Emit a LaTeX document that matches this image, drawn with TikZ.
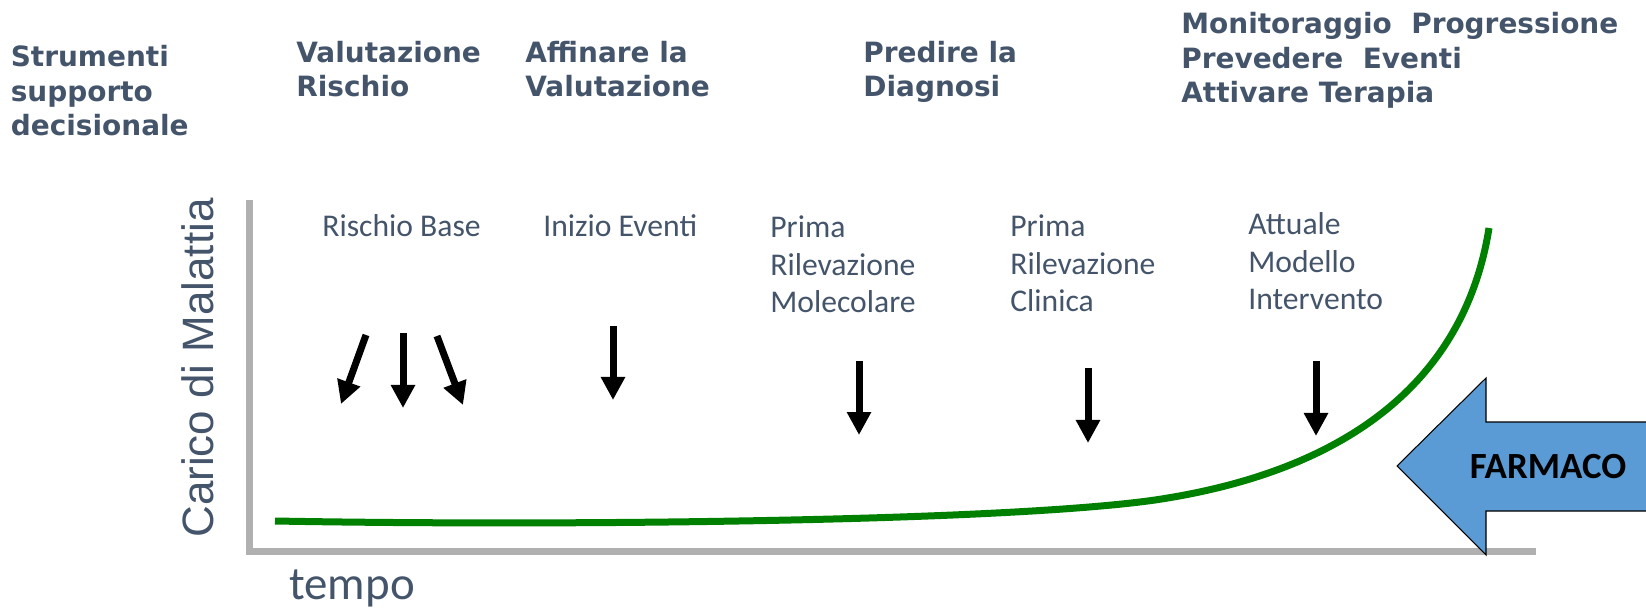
\documentclass[tikz,border=0pt]{standalone}
\usepackage{fontspec}
\setmainfont{Carlito}
\newfontfamily\headfont{DejaVu Sans}
\newfontfamily\axisfont{Liberation Sans}
\usetikzlibrary{arrows.meta}

\definecolor{slate}{HTML}{44546A}
\definecolor{axisgray}{HTML}{B0B0B0}
\definecolor{burden}{HTML}{008000}
\definecolor{farmblue}{HTML}{5B9BD5}

\tikzset{
    header/.style={anchor=base west, align=left, inner sep=0pt, text=slate,
        font=\headfont\bfseries\fontsize{15.9}{19.9}\selectfont},
    phase/.style={anchor=base west, align=left, inner sep=0pt, text=slate,
        font=\fontsize{18}{21.6}\selectfont},
    marker/.style={line width=0.14cm, -{Triangle[width=0.46cm,length=0.46cm]}},
}

\begin{document}
\begin{tikzpicture}

        \useasboundingbox (0,0) rectangle (32.92,12.18);

        % Headers (placed on the baseline of their last line)
        \node[header] (tools) at (0.21, 9.46) {Strumenti\\supporto\\decisionale};
        \node[header] (risk) at (5.92, 10.24) {Valutazione\\Rischio};
        \node[header] (refine) at (10.5, 10.24) {Affinare la\\Valutazione};
        \node[header] (predict) at (17.26, 10.24) {Predire la\\Diagnosi};
        \node[header] (monitor) at (23.62, 10.12) {Monitoraggio\ \ Progressione\\Prevedere\ \ Eventi\\Attivare Terapia};

        % Axes
        \draw[axisgray, line width=0.14cm, line join=miter] (4.99, 8.18) -- (4.99, 1.16) -- (30.72, 1.16);
        \node[rotate=90, inner sep=0pt, text=slate, font=\axisfont\fontsize{25}{30}\selectfont] (carico) at (3.96, 4.82) {Carico di Malattia};
        \node[anchor=base west, inner sep=0pt, text=slate, font=\fontsize{26.7}{32}\selectfont] (tempo) at (5.78, 0.2) {tempo};

        % Phases
        \node[phase] (base) at (6.44, 7.44) {Rischio Base};
        \node[phase] (onset) at (10.86, 7.44) {Inizio Eventi};
        \node[phase] (molec) at (15.40, 5.92) {Prima\\Rilevazione\\Molecolare};
        \node[phase] (clin) at (20.20, 5.94) {Prima\\Rilevazione\\Clinica};
        \node[phase] (now) at (24.96, 5.98) {Attuale\\Modello\\Intervento};

        % Arrows under the phases
        \draw[marker] (7.32, 5.48) -- (6.82, 4.10);
        \draw[marker] (8.06, 5.52) -- (8.06, 4.02);
        \draw[marker] (8.74, 5.46) -- (9.26, 4.08);
        \draw[marker] (12.26, 5.66) -- (12.26, 4.18);
        \draw[marker] (17.18, 4.96) -- (17.18, 3.48);
        \draw[marker] (21.76, 4.82) -- (21.76, 3.32);
        \draw[marker] (26.32, 4.96) -- (26.32, 3.46);

        % Disease curve
        \draw[burden, line width=0.14cm] (5.50, 1.76) .. controls (11, 1.66) and (20.0, 1.74) .. (23.1, 2.18)
            .. controls (27, 2.76) and (29.3, 4.6) .. (29.78, 7.62);

        % Drug arrow
        \draw[fill=farmblue, line width=0.6pt, line join=miter] (27.94, 2.86) -- (29.72, 4.62) -- (29.72, 3.74) -- (33.2, 3.74) -- (33.2, 1.96) -- (29.72, 1.96) -- (29.72, 1.08) -- cycle;
        \node[font=\bfseries\fontsize{21}{25}\selectfont] (farmaco) at (30.96, 2.84) {FARMACO};

\end{tikzpicture}
\end{document}
